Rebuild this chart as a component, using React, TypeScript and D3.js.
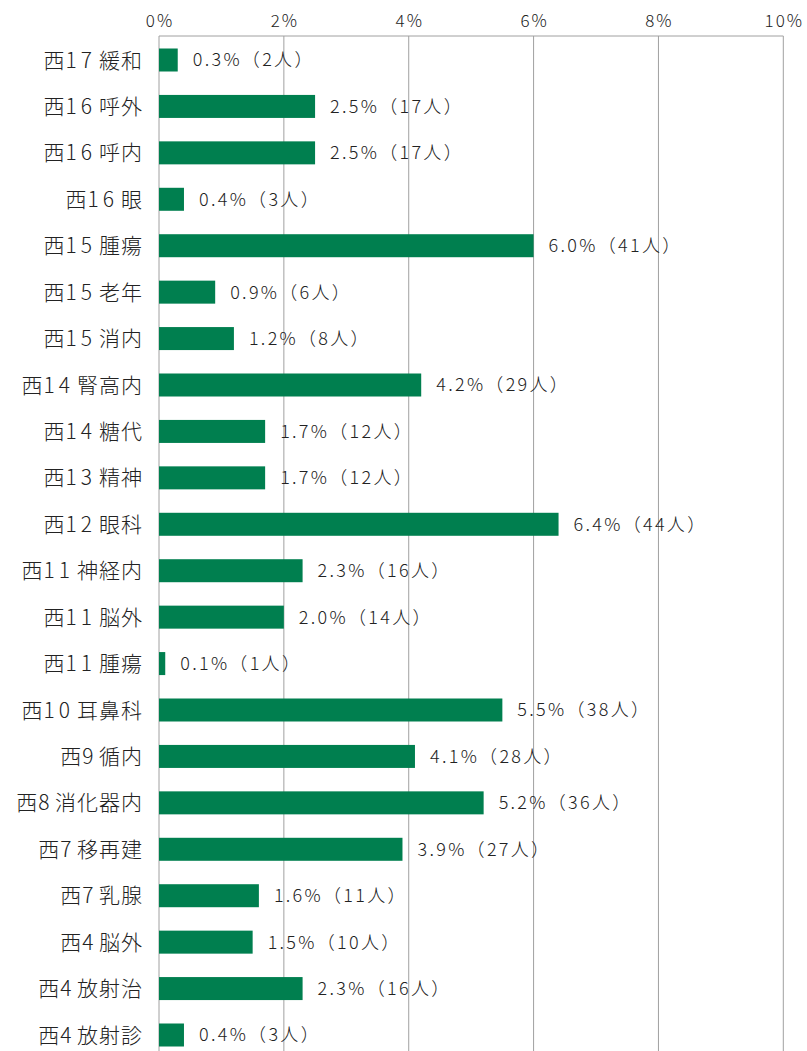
import React from "react";
import * as d3 from "d3";

const categories = [
  "西17緩和", "西16呼外", "西16呼内", "西16眼", "西15腫瘍", "西15老年", "西15消内",
  "西14腎高内", "西14糖代", "西13精神", "西12眼科", "西11神経内", "西11脳外", "西11腫瘍",
  "西10耳鼻科", "西9循内", "西8消化器内", "西7移再建", "西7乳腺", "西4脳外", "西4放射治", "西4放射診",
];
const percents = [0.3, 2.5, 2.5, 0.4, 6.0, 0.9, 1.2, 4.2, 1.7, 1.7, 6.4, 2.3, 2.0, 0.1, 5.5, 4.1, 5.2, 3.9, 1.6, 1.5, 2.3, 0.4];
const counts = [2, 17, 17, 3, 41, 6, 8, 29, 12, 12, 44, 16, 14, 1, 38, 28, 36, 27, 11, 10, 16, 3];
const ticks = [0, 2, 4, 6, 8, 10];

const W = 807;
const H = 1051;
const FONT = "'Noto Sans CJK JP', 'Noto Sans', sans-serif";

function splitLabel(c: string) {
  const m = c.match(/^(\D+)(\d+)(.*)$/);
  return m ? [m[1], m[2], m[3]] : [c, "", ""];
}

export default function App() {
  const x = d3.scaleLinear().domain([0, 10]).range([159, 783.3]);
  const y = d3.scalePoint<string>().domain(categories).range([60, 1035]);
  const bh = 23;
  return (
    <svg width={W} height={H} style={{ position: "absolute", left: 0, top: 0 }}>
      <rect width={W} height={H} fill="#fff" />
      {ticks.map((t) => (
        <g key={t}>
          <line x1={x(t)} x2={x(t)} y1={36} y2={H} stroke="#a0a0a0" strokeWidth={1} />
          <text x={x(t) + 1} y={27} textAnchor="middle" fontFamily={FONT} fontWeight={300} fontSize={17} letterSpacing={2} fill="#222">{t}%</text>
        </g>
      ))}
      <line x1={x(0)} x2={x(10)} y1={36} y2={36} stroke="#a0a0a0" strokeWidth={1} />
      {categories.map((c, i) => {
        const cy = y(c) as number;
        const [pre, num, rest] = splitLabel(c);
        return (
          <g key={c}>
            <rect x={x(0)} y={cy - bh / 2} width={x(percents[i]) - x(0)} height={bh} fill="#007f4f" />
            <text x={143} y={cy} dy="0.36em" textAnchor="end" fontFamily={FONT} fontWeight={300} fontSize={21} letterSpacing={1} fill="#222">
              <tspan>{pre}</tspan>
              <tspan letterSpacing={num.length > 1 ? 4 : 2.6}>{num}</tspan>
              <tspan dx={3}>{rest}</tspan>
            </text>
            <text x={x(percents[i]) + 15} y={cy} dy="0.36em" fontFamily={FONT} fontWeight={300} fontSize={18} letterSpacing={2.3} fill="#222">
              {percents[i].toFixed(1)}%（{counts[i]}人）
            </text>
          </g>
        );
      })}
    </svg>
  );
}
